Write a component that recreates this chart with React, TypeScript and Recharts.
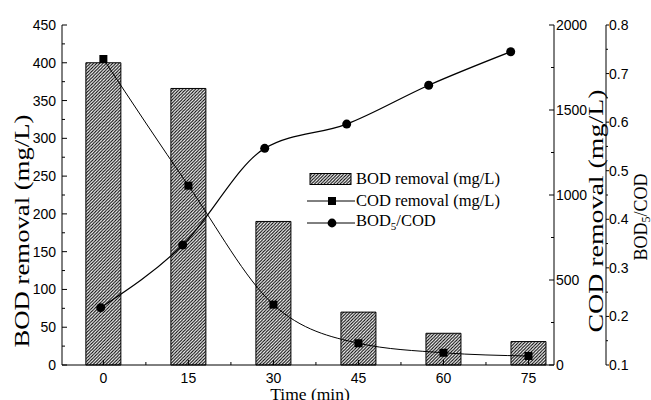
import { ComposedChart, Bar, Line, XAxis, YAxis, Legend } from 'recharts';

// values
const times = [0, 15, 30, 45, 60, 75];
const bodRemoval = [400, 366, 190, 70, 42, 31];
const codRemoval = [1800, 1055, 355, 128, 72, 53];
const bodCodRatio = [0.218, 0.347, 0.546, 0.596, 0.676, 0.745];

const timeTicks = [0, 15, 30, 45, 60, 75];
const bodTicks = [0, 50, 100, 150, 200, 250, 300, 350, 400, 450];
const codTicks = [0, 500, 1000, 1500, 2000];
const ratioTicks = [0.1, 0.2, 0.3, 0.4, 0.5, 0.6, 0.7, 0.8];

const data = times.map((t, i) => ({
    time: t,
    bod: bodRemoval[i],
    cod: codRemoval[i],
    ratio: bodCodRatio[i],
}));

const SANS = '"Liberation Sans", Arial, sans-serif';
const SERIF = '"Liberation Serif", "Times New Roman", serif';

// major ticks plus one minor tick half way between each pair
const withMinor = (ticks: number[]) => {
    const out: number[] = [];
    ticks.forEach((t, i) => {
        out.push(t);
        if (i < ticks.length - 1) out.push(+((t + ticks[i + 1]) / 2).toFixed(4));
    });
    return out;
};
const isMajor = (ticks: number[], v: number) => ticks.some((m) => Math.abs(m - v) < 1e-6);

const LeftTick = ({ x, y, payload }: any) => {
    const major = isMajor(bodTicks, payload.value);
    return (
        <g>
            <line x1={x} x2={x + (major ? 5 : 3)} y1={y} y2={y} stroke="#000" />
            {major && (
                <text x={x - 6} y={y + 5} textAnchor="end" fontFamily={SANS} fontSize={14} fill="#000">
                    {payload.value}
                </text>
            )}
        </g>
    );
};

const CodTick = ({ x, y, payload }: any) => {
    const major = isMajor(codTicks, payload.value);
    return (
        <g>
            <line x1={x - (major ? 5 : 3)} x2={x} y1={y} y2={y} stroke="#000" />
            {major && (
                <text x={x + 2} y={y + 5} textAnchor="start" fontFamily={SANS} fontSize={14} fill="#000">
                    {payload.value}
                </text>
            )}
        </g>
    );
};

const RatioTick = ({ x, y, payload }: any) => {
    const major = isMajor(ratioTicks, payload.value);
    return (
        <g>
            <line x1={x} x2={x + (major ? 3 : 2)} y1={y} y2={y} stroke="#000" />
            {major && (
                <text x={x + 3} y={y + 5} textAnchor="start" fontFamily={SANS} fontSize={14} fill="#000">
                    {payload.value.toFixed(1)}
                </text>
            )}
        </g>
    );
};

const BottomTick = ({ x, y, payload }: any) => {
    const major = isMajor(timeTicks, payload.value);
    return (
        <g>
            <line x1={x} x2={x} y1={y - (major ? 5 : 3)} y2={y} stroke="#000" />
            {major && (
                <text x={x} y={y + 18} textAnchor="middle" fontFamily={SANS} fontSize={14} fill="#000">
                    {payload.value}
                </text>
            )}
        </g>
    );
};

const TopTick = ({ x, y, payload }: any) => {
    const major = isMajor(timeTicks, payload.value);
    return <line x1={x} x2={x} y1={y} y2={y + (major ? 5 : 3)} stroke="#000" />;
};

const SquareDot = (props: any) => {
    const { cx, cy, index } = props;
    if (cx == null || cy == null) return null;
    return <rect key={`sq-${index}`} x={cx - 4} y={cy - 4} width={8} height={8} fill="#000" />;
};

const CircleDot = (props: any) => {
    const { cx, cy, index } = props;
    if (cx == null || cy == null) return null;
    return <circle key={`ci-${index}`} cx={cx} cy={cy} r={4.5} fill="#000" />;
};

const bodTitle = () => (
    <text
        transform="translate(22,231) rotate(-90)"
        textAnchor="middle"
        dominantBaseline="central"
        fontFamily={SERIF}
        fontSize={20}
        textLength={233}
        lengthAdjust="spacingAndGlyphs"
        fill="#000"
    >
        BOD removal (mg/L)
    </text>
);

const codTitle = () => (
    <text
        transform="translate(596,211) rotate(-90)"
        textAnchor="middle"
        dominantBaseline="central"
        fontFamily={SERIF}
        fontSize={20}
        textLength={243}
        lengthAdjust="spacingAndGlyphs"
        fill="#000"
    >
        COD removal (mg/L)
    </text>
);

const ratioTitle = () => (
    <text
        transform="translate(641,217) rotate(-90)"
        textAnchor="middle"
        dominantBaseline="central"
        fontFamily={SERIF}
        fontSize={18}
        fill="#000"
    >
        BOD
        <tspan fontSize={12} dy={5}>5</tspan>
        <tspan dy={-5}>/COD</tspan>
    </text>
);

const timeTitle = () => (
    <text x={310} y={400} textAnchor="middle" fontFamily={SERIF} fontSize={17.5} fill="#000">
        Time (min)
    </text>
);

const LegendContent = () => (
    <div style={{ fontFamily: SERIF, fontSize: 16.5, color: '#000', lineHeight: '22px' }}>
        <div style={{ display: 'flex', alignItems: 'center', height: 22 }}>
            <svg width={51} height={22}>
                <rect x={5} y={5.5} width={41} height={11} fill="url(#hatch)" stroke="#000" />
            </svg>
            <span>BOD removal (mg/L)</span>
        </div>
        <div style={{ display: 'flex', alignItems: 'center', height: 22 }}>
            <svg width={51} height={22}>
                <line x1={2} x2={50} y1={11} y2={11} stroke="#000" />
                <rect x={23} y={7} width={8} height={8} fill="#000" />
            </svg>
            <span>COD removal (mg/L)</span>
        </div>
        <div style={{ display: 'flex', alignItems: 'center', height: 22 }}>
            <svg width={51} height={22}>
                <line x1={2} x2={50} y1={11} y2={11} stroke="#000" />
                <circle cx={27} cy={11} r={4.4} fill="#000" />
            </svg>
            <span>
                BOD<sub style={{ fontSize: 11, verticalAlign: '-4px' }}>5</sub>/COD
            </span>
        </div>
    </div>
);

export default function App() {
    return (
        <div style={{ position: 'absolute', left: 0, top: 0, width: 651, height: 400, background: '#fff' }}>
            <ComposedChart width={651} height={400} data={data} margin={{ top: 25, right: 0, bottom: 0, left: 0 }}>
                <defs>
                    <pattern id="hatch" patternUnits="userSpaceOnUse" width={3.2} height={3.2}>
                        <path d="M-1,1 l2,-2 M0,3.2 l3.2,-3.2 M2.2,4.2 l2,-2" stroke="#000" strokeWidth={1} />
                    </pattern>
                </defs>
                <XAxis
                    xAxisId="t"
                    dataKey="time"
                    type="number"
                    domain={[-7.3, 79.5]}
                    allowDataOverflow
                    ticks={withMinor(timeTicks)}
                    interval={0}
                    tick={<BottomTick />}
                    tickLine={false}
                    tickSize={0}
                    tickMargin={0}
                    height={35}
                    stroke="#000"
                    label={timeTitle}
                />
                <XAxis
                    xAxisId="top"
                    orientation="top"
                    dataKey="time"
                    type="number"
                    domain={[-7.3, 79.5]}
                    allowDataOverflow
                    ticks={withMinor(timeTicks)}
                    interval={0}
                    tick={<TopTick />}
                    tickLine={false}
                    tickSize={0}
                    tickMargin={0}
                    height={0}
                    stroke="#000"
                />
                <XAxis
                    xAxisId="t2"
                    dataKey="time"
                    type="number"
                    domain={[-7.08, 82.92]}
                    allowDataOverflow
                    hide
                />
                <YAxis
                    yAxisId="bod"
                    orientation="left"
                    domain={[0, 450]}
                    ticks={withMinor(bodTicks)}
                    interval={0}
                    tick={<LeftTick />}
                    tickLine={false}
                    tickSize={0}
                    tickMargin={0}
                    width={62}
                    stroke="#000"
                    label={bodTitle}
                />
                <YAxis
                    yAxisId="cod"
                    orientation="right"
                    domain={[0, 2000]}
                    ticks={withMinor(codTicks)}
                    interval={0}
                    tick={<CodTick />}
                    tickLine={false}
                    tickSize={0}
                    tickMargin={0}
                    width={52}
                    stroke="#000"
                    label={codTitle}
                />
                <YAxis
                    yAxisId="ratio"
                    orientation="right"
                    domain={[0.1, 0.8]}
                    ticks={withMinor(ratioTicks)}
                    interval={0}
                    tick={<RatioTick />}
                    tickLine={false}
                    tickSize={0}
                    tickMargin={0}
                    width={45}
                    stroke="#000"
                    label={ratioTitle}
                />
                <Bar
                    xAxisId="t"
                    yAxisId="bod"
                    dataKey="bod"
                    barSize={35}
                    fill="url(#hatch)"
                    stroke="#000"
                    strokeWidth={1}
                    isAnimationActive={false}
                />
                <Line
                    xAxisId="t"
                    yAxisId="cod"
                    dataKey="cod"
                    type="monotone"
                    stroke="#000"
                    strokeWidth={1}
                    dot={SquareDot}
                    activeDot={false}
                    isAnimationActive={false}
                />
                <Line
                    xAxisId="t2"
                    yAxisId="ratio"
                    dataKey="ratio"
                    type="monotone"
                    stroke="#000"
                    strokeWidth={1.2}
                    dot={CircleDot}
                    activeDot={false}
                    isAnimationActive={false}
                />
                <Legend
                    layout="vertical"
                    verticalAlign="middle"
                    align="center"
                    content={<LegendContent />}
                    wrapperStyle={{ left: 305, top: 168, width: 'auto', height: 'auto', margin: 0 }}
                />
            </ComposedChart>
        </div>
    );
}
